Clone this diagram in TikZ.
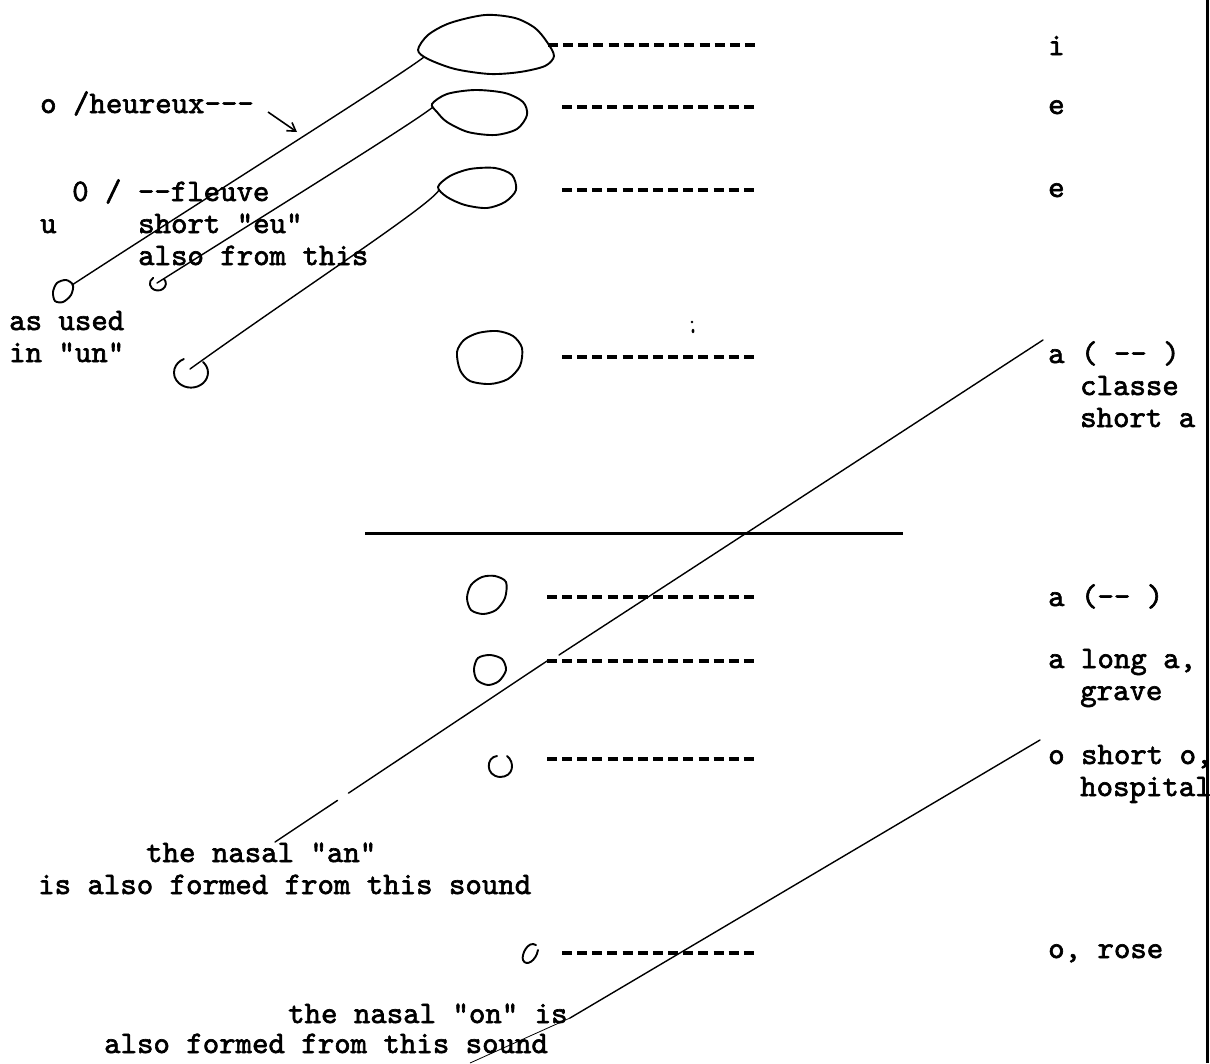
\documentclass[tikz,border=0pt]{standalone}
\usepackage{fontspec}
\newfontfamily\typewriter{lmmono10-regular.otf}[FakeBold=2]
\usetikzlibrary{calc,arrows.meta}
\begin{document}
\begin{tikzpicture}[x=1pt,y=-1pt,
  txt/.style={inner sep=0pt,anchor=base west,font=\typewriter\fontsize{31.3}{32}\selectfont},
  pen/.style={line width=1.9pt,line cap=round,line join=round},
  stem/.style={line width=1.4pt,line cap=round},
  typed/.style={line width=4.2pt,dash pattern=on 10pt off 5.15pt},
  rule/.style={line width=3pt}]
\fill[white] (0,0) rectangle (1210,1063);
\useasboundingbox (0,0) rectangle (1210,1063);

% ---------- lip shapes of the front vowels ----------
\draw[pen] plot[smooth cycle] coordinates {(418,50) (428,35) (450,23) (485,15) (515,18) (535,28) (547,42) (554,56) (545,66) (520,72) (490,74) (455,69) (428,59)};
\draw[pen] plot[smooth cycle] coordinates {(432,104) (447,94) (475,90) (505,93) (523,102) (527,115) (517,129) (495,135) (468,132) (447,122) (437,112)};
\draw[pen] plot[smooth cycle] coordinates {(438,187) (450,176) (470,169) (495,168) (512,175) (516,190) (505,202) (487,208) (465,205) (447,197)};
\draw[pen] plot[smooth cycle] coordinates {(457,352) (464,340) (478,333) (497,331) (513,336) (522,348) (520,366) (508,379) (490,384) (470,381) (460,370)};

% ---------- lip shapes of the back vowels ----------
\draw[pen] plot[smooth cycle] coordinates {(467,598) (471,585) (482,577) (495,576) (506,582) (505,598) (496,610) (483,614) (471,610)};
\draw[pen] plot[smooth cycle] coordinates {(474,669) (478,658) (490,655) (502,659) (506,670) (499,681) (488,685) (477,680)};
\draw[pen] (497,756) .. controls (486,757) and (485,776) .. (500,777) .. controls (514,777) and (515,762) .. (507,756);
\draw[pen] (536,945) .. controls (528,940) and (521,955) .. (523,960) .. controls (526,967) and (536,961) .. (538,950);

% ---------- rounded variants at the left ----------
\draw[pen] plot[smooth cycle] coordinates {(57,283) (66,280) (73,285) (71,295) (63,302) (55,301) (53,292)};
\draw[pen] (164,279) arc[start angle=-40,end angle=235,x radius=8,y radius=7];
\draw[pen] (203,362) arc[start angle=-45,end angle=245,x radius=17,y radius=15];

% ---------- attachment points ----------
\coordinate (i-lip) at (424,57);
\coordinate (e-lip) at (433,107);
\coordinate (eo-lip) at (439,190);
\coordinate (u-lip) at (72,285);
\coordinate (eu-lip) at (157,283);
\coordinate (un-lip) at (190,369);

\draw[stem] (i-lip) .. controls (400,76) and (190,208) .. (u-lip);
\draw[stem] (e-lip) .. controls (415,122) and (260,218) .. (eu-lip);
\draw[stem] (eo-lip) .. controls (431,205) and (300,290) .. (un-lip);

% ---------- typed guide lines ----------
\coordinate (r1) at (548,45);   \coordinate (r1e) at (756,45);
\coordinate (r2) at (562,107);  \coordinate (r2e) at (755,107);
\coordinate (r3) at (562,190);  \coordinate (r3e) at (755,190);
\coordinate (r4) at (562,357);  \coordinate (r4e) at (755,357);
\coordinate (r5) at (547,597);  \coordinate (r5e) at (755,597);
\coordinate (r6) at (547,661);  \coordinate (r6e) at (755,661);
\coordinate (r7) at (547,759);  \coordinate (r7e) at (755,759);
\coordinate (r8) at (562,953);  \coordinate (r8e) at (755,953);
\foreach \r in {1,...,8} \draw[typed] (r\r) -- (r\r e);

\fill (692,322) circle (1.3);
\fill (693,331) ellipse (1.4 and 2.2);

% front / back division
\coordinate (div-l) at (365,533);
\coordinate (div-r) at (903,533);
\draw[rule] (div-l) -- (div-r);

% right margin rule
\coordinate (mar-t) at (1207,0);
\coordinate (mar-b) at (1207,1063);

% ---------- labels ----------
\node[txt] (li)  at (1048,55)  {i};
\node[txt] (le1) at (1048,114) {e};
\node[txt] (le2) at (1048,197) {e};
\node[txt] (la1) at (1048,363) {a ( -- )};
\node[txt] (la1b) at (1080,395) {classe};
\node[txt] (la1c) at (1080,427) {short a};
\node[txt] (la2) at (1048,606) {a (-- )};
\node[txt] (la3) at (1048,668) {a long a,};
\node[txt] (la3b) at (1080,700) {grave};
\node[txt] (lo1) at (1048,764) {o short o,};
\node[txt] (lo1b) at (1080,796) {hospital};
\node[txt] (lo2) at (1048,958) {o, rose};

\node[txt] (heur) at (40,113) {o /heureux---};
\node[txt] (fleu) at (72,201) {0 / --fleuve};
\node[txt] (lu)   at (40,233) {u};
\node[txt] (seu)  at (138,233) {short "eu"};
\node[txt] (seub) at (138,265) {also from this};
\node[txt] (un1)  at (9,330)  {as used};
\node[txt] (un2)  at (9,362)  {in "un"};

\node[txt] (an1) at (146,862) {the nasal "an"};
\node[txt] (an2) at (38,894)  {is also formed from this sound};
\node[txt] (on1) at (288,1023) {the nasal "on" is};
\node[txt] (on2) at (104,1053) {also formed from this sound};

\draw[rule] (mar-t) -- (mar-b);

% arrow pointing at the i-stem
\coordinate (arr-s) at (268,112);
\coordinate (arr-e) at (297,132);
\draw[line width=1.6pt,-{Straight Barb[length=8pt,width=10pt]}] (arr-s) -- (arr-e);

% ---------- nasal leaders ----------
\coordinate (anA) at (1043,340);
\coordinate (anM2) at (559,655);
\coordinate (anM1) at (547,661);
\coordinate (anB) at (275,842);
\draw[stem] (anA) -- (anM2);
\draw[stem] (anM1) -- ($(anM1)!0.73!(anB)$);
\draw[stem] ($(anM1)!0.77!(anB)$) -- (anB);

\coordinate (onA) at (1040,740);
\coordinate (onB) at (570,1018);
\coordinate (onC) at (470,1063);
\draw[stem] (onA) -- (onB);
\draw[line width=0.8pt] (onB) -- (onC);
\end{tikzpicture}
\end{document}
